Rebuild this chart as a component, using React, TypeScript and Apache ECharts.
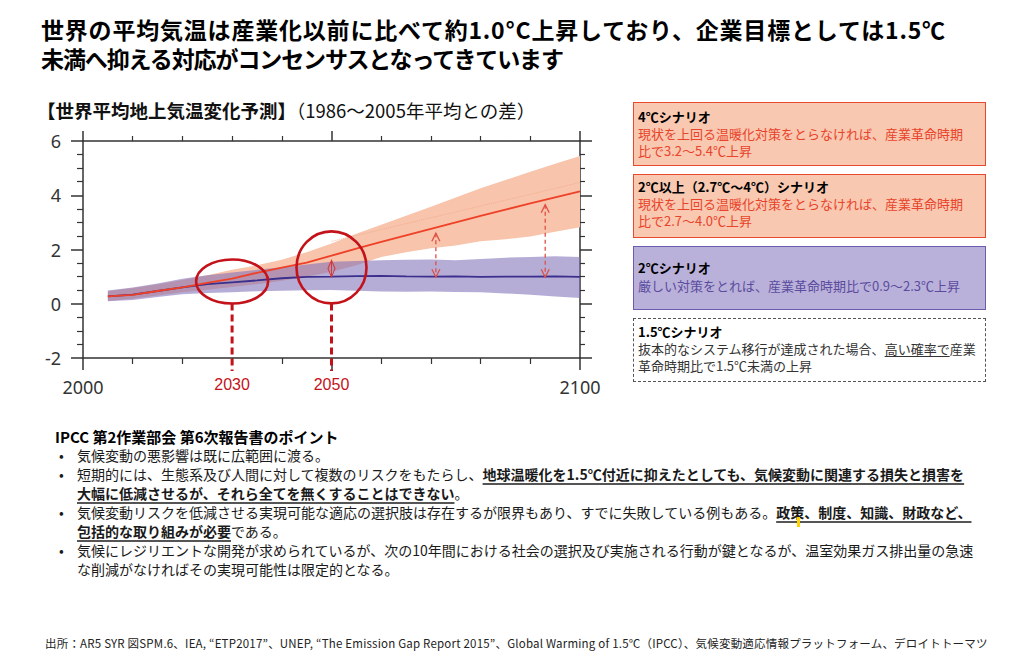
import { useEffect, useRef } from "react"
import * as echarts from "echarts"

// 年（5年刻み）
const years = [
  2005, 2010, 2015, 2020, 2025, 2030, 2035, 2040, 2045, 2050,
  2055, 2060, 2065, 2070, 2075, 2080, 2085, 2090, 2095, 2100,
]

// RCP8.5（4℃シナリオ）平均と幅
const highMean = [
  0.27, 0.33, 0.47, 0.6, 0.77, 0.93, 1.14, 1.33, 1.52, 1.77,
  2.03, 2.28, 2.52, 2.76, 3.0, 3.24, 3.47, 3.7, 3.92, 4.14,
]
const highUpper = [
  0.47, 0.58, 0.72, 0.88, 1.05, 1.25, 1.42, 1.62, 1.9, 2.22,
  2.58, 2.91, 3.24, 3.58, 3.92, 4.26, 4.56, 4.87, 5.16, 5.45,
]
const highLower = [
  0.1, 0.18, 0.3, 0.42, 0.52, 0.62, 0.72, 0.85, 1.0, 1.18,
  1.42, 1.72, 1.9, 2.05, 2.15, 2.3, 2.38, 2.48, 2.65, 2.82,
]

// RCP2.6（2℃シナリオ）平均と幅
const lowMean = [
  0.27, 0.34, 0.47, 0.6, 0.72, 0.79, 0.86, 0.94, 0.99, 1.0,
  1.02, 1.03, 1.01, 1.0, 1.01, 0.99, 1.0, 1.0, 1.01, 0.99,
]
const lowUpper = [
  0.49, 0.6, 0.75, 0.92, 1.05, 1.15, 1.25, 1.35, 1.45, 1.55,
  1.58, 1.6, 1.62, 1.63, 1.6, 1.65, 1.7, 1.72, 1.75, 1.72,
]
const lowLower = [
  0.09, 0.14, 0.25, 0.35, 0.4, 0.42, 0.46, 0.48, 0.5, 0.51,
  0.48, 0.45, 0.44, 0.45, 0.43, 0.42, 0.38, 0.33, 0.27, 0.21,
]

// 帯の中の薄い点線
const dottedYears = [2050, 2100]
const dottedValues = [2.3, 4.47]

// 注目年（円と縦の破線）
const markYears = [2030, 2050]
const markCenters = [0.82, 1.34]

// 差を示す矢印
const arrowYears = [2071, 2093]
const arrowTops = [2.6, 3.65]
const arrowBottoms = [0.98, 0.98]
const gapYear = 2050
const gapTop = 1.6
const gapBottom = 0.99

const shownYearLabels = [2000, 2100]

const pairs = (vals: number[]) => years.map((y, i) => [y, vals[i]])

const JP = '"Noto Sans CJK JP", "Noto Sans", sans-serif'

// 上限と下限の間を一枚の多角形で塗る
function bandSeries(upper: number[], lower: number[], color: string) {
  return {
    type: "custom",
    silent: true,
    data: years.map((y, i) => [y, lower[i], upper[i]]),
    encode: { x: 0, y: [1, 2] },
    renderItem: (params: any, api: any) => {
      if (params.dataIndex !== 0) return null
      const top = years.map((y, i) => api.coord([y, upper[i]]))
      const bottom = years.map((y, i) => api.coord([y, lower[i]])).reverse()
      return {
        type: "polygon",
        shape: { points: top.concat(bottom) },
        style: { fill: color },
      }
    },
  }
}

function TempChart() {
  const ref = useRef<HTMLDivElement>(null)

  useEffect(() => {
    if (!ref.current) return
    const chart = echarts.init(ref.current, undefined, { renderer: "svg" })

    const axisColor = "#333"

    chart.setOption({
      animation: false,
      grid: { left: 83, right: 45, top: 46, bottom: 62 },
      xAxis: [
        {
          type: "value",
          min: 2000,
          max: 2100,
          interval: 50,
          position: "bottom",
          axisLine: { onZero: false, lineStyle: { color: axisColor, width: 1.5 } },
          axisTick: { length: 12, lineStyle: { color: axisColor, width: 1.5 } },
          minorTick: { show: true, splitNumber: 5, length: 6, lineStyle: { color: axisColor, width: 1.2 } },
          axisLabel: {
            formatter: (v: number) => (shownYearLabels.includes(v) ? String(v) : ""),
            fontSize: 18,
            color: "#333",
            margin: 20,
            fontFamily: '"Noto Sans", sans-serif',
          },
          splitLine: { show: false },
        },
        {
          type: "value",
          min: 2000,
          max: 2100,
          interval: 50,
          position: "top",
          axisLine: { onZero: false, lineStyle: { color: axisColor, width: 1.5 } },
          axisTick: { length: 10, lineStyle: { color: axisColor, width: 1.5 } },
          minorTick: { show: true, splitNumber: 5, length: 5, lineStyle: { color: axisColor, width: 1.2 } },
          axisLabel: { show: false },
          splitLine: { show: false },
        },
      ],
      yAxis: [
        {
          type: "value",
          min: -2,
          max: 6,
          interval: 2,
          position: "left",
          axisLine: { show: true, onZero: false, lineStyle: { color: axisColor, width: 1.5 } },
          axisTick: { show: true, length: 12, lineStyle: { color: axisColor, width: 1.5 } },
          minorTick: { show: true, splitNumber: 4, length: 6, lineStyle: { color: axisColor, width: 1.2 } },
          axisLabel: { fontSize: 18, color: "#333", margin: 22, fontFamily: '"Noto Sans", sans-serif' },
          splitLine: { show: false },
        },
        {
          type: "value",
          min: -2,
          max: 6,
          interval: 2,
          position: "right",
          axisLine: { show: true, onZero: false, lineStyle: { color: axisColor, width: 1.5 } },
          axisTick: { show: true, length: 12, lineStyle: { color: axisColor, width: 1.5 } },
          minorTick: { show: true, splitNumber: 4, length: 5, lineStyle: { color: axisColor, width: 1.2 } },
          axisLabel: { show: false },
          splitLine: { show: false },
        },
      ],
      series: [
        bandSeries(highUpper, highLower, "#f8c4ab"),
        bandSeries(lowUpper, lowLower, "rgba(124,108,182,0.56)"),
        {
          type: "line",
          data: dottedYears.map((y, i) => [y, dottedValues[i]]),
          symbol: "none",
          silent: true,
          lineStyle: { color: "#f0a58c", width: 1, type: "dotted", opacity: 0.7 },
        },
        {
          type: "line",
          data: pairs(lowMean),
          symbol: "none",
          silent: true,
          lineStyle: { color: "#3b2f8e", width: 1.8 },
        },
        {
          type: "line",
          data: pairs(highMean),
          symbol: "none",
          silent: true,
          lineStyle: { color: "#ee4128", width: 1.8 },
        },
      ],
    })

    // 注記は軸の座標から位置を求めて描く
    const px = (x: number, y: number) =>
      chart.convertToPixel({ seriesIndex: 3 }, [x, y]) as number[]
    const deep = "#c4121a"
    const soft = "#df4f46"
    const graphics: any[] = []
    const radiusX = [36, 35]
    const radiusY = [22, 36]
    const axisBottom = px(2000, -2)[1]

    markYears.forEach((yr, i) => {
      const [cx, cy] = px(yr, markCenters[i])
      graphics.push({
        type: "ellipse",
        silent: true,
        z: 100,
        shape: { cx, cy, rx: radiusX[i], ry: radiusY[i] },
        style: { fill: "none", stroke: deep, lineWidth: 2.6 },
      })
      graphics.push({
        type: "line",
        silent: true,
        z: 100,
        shape: { x1: cx, y1: cy + radiusY[i], x2: cx, y2: axisBottom + 13 },
        style: { stroke: deep, lineWidth: 3, lineDash: [7, 4] },
      })
      graphics.push({
        type: "text",
        silent: true,
        z: 100,
        x: cx,
        y: axisBottom + 26,
        style: {
          text: String(yr),
          fill: deep,
          fontSize: 16,
          fontFamily: '"Liberation Sans Narrow", "Liberation Sans", sans-serif',
          textAlign: "center",
          textVerticalAlign: "middle",
        },
      })
    })

    arrowYears.forEach((yr, i) => {
      const [x, yTop] = px(yr, arrowTops[i])
      const yBot = px(yr, arrowBottoms[i])[1]
      graphics.push({
        type: "line",
        silent: true,
        z: 100,
        shape: { x1: x, y1: yTop, x2: x, y2: yBot },
        style: { stroke: soft, lineWidth: 1.3, lineDash: [4, 3] },
      })
      graphics.push({
        type: "polyline",
        silent: true,
        z: 100,
        shape: { points: [[x - 4, yTop + 8], [x, yTop], [x + 4, yTop + 8]] },
        style: { stroke: soft, lineWidth: 1.3, fill: "none" },
      })
      graphics.push({
        type: "polyline",
        silent: true,
        z: 100,
        shape: { points: [[x - 4, yBot - 8], [x, yBot], [x + 4, yBot - 8]] },
        style: { stroke: soft, lineWidth: 1.3, fill: "none" },
      })
    })

    const [gx, gTop] = px(gapYear, gapTop)
    const gBot = px(gapYear, gapBottom)[1]
    const gMid = (gTop + gBot) / 2
    graphics.push({
      type: "polygon",
      silent: true,
      z: 100,
      shape: { points: [[gx, gTop], [gx + 3.5, gMid], [gx, gBot], [gx - 3.5, gMid]] },
      style: { stroke: "#d6393a", lineWidth: 1.1, fill: "none" },
    })
    graphics.push({
      type: "line",
      silent: true,
      z: 100,
      shape: { x1: gx, y1: gTop, x2: gx, y2: gBot },
      style: { stroke: "#d6393a", lineWidth: 1 },
    })

    chart.setOption({ graphic: graphics })

    const onResize = () => chart.resize()
    window.addEventListener("resize", onResize)
    return () => {
      window.removeEventListener("resize", onResize)
      chart.dispose()
    }
  }, [])

  return (
    <div
      ref={ref}
      style={{ position: "absolute", left: 0, top: 95, width: 625, height: 325 }}
    />
  )
}

const boxBase: React.CSSProperties = {
  position: "absolute",
  left: 633,
  width: 353,
  height: 64,
  boxSizing: "border-box",
  paddingLeft: 4,
  fontSize: 13,
  lineHeight: "17px",
  whiteSpace: "nowrap",
  fontFamily: JP,
}

const strong: React.CSSProperties = {
  fontWeight: 700,
  textDecoration: "underline",
  textDecorationColor: "#555",
  textDecorationThickness: "1.5px",
  textUnderlineOffset: "3px",
}

const titleLine: React.CSSProperties = {
  position: "absolute",
  left: 41,
  fontSize: 23,
  fontWeight: 700,
  lineHeight: "26px",
  whiteSpace: "nowrap",
  color: "#000",
}

function Bullet({ children }: { children: React.ReactNode }) {
  return (
    <div style={{ position: "relative", paddingLeft: 22 }}>
      <span style={{ position: "absolute", left: 4 }}>•</span>
      {children}
    </div>
  )
}

export default function App() {
  return (
    <div
      style={{
        position: "fixed",
        left: 0,
        top: 0,
        width: 1024,
        height: 653,
        background: "#fff",
        fontFamily: JP,
        color: "#111",
        overflow: "hidden",
      }}
    >
      <TempChart />

      <div style={{ ...titleLine, top: 16, letterSpacing: "0.8px" }}>
        世界の平均気温は産業化以前に比べて約1.0°C上昇しており、企業目標としては1.5℃
      </div>
      <div style={{ ...titleLine, top: 45, letterSpacing: "-1.1px" }}>
        未満へ抑える対応がコンセンサスとなってきています
      </div>

      <div
        style={{
          position: "absolute",
          left: 37,
          top: 99,
          fontSize: 18.5,
          lineHeight: "22px",
          whiteSpace: "nowrap",
          color: "#111",
        }}
      >
        <span style={{ fontWeight: 700 }}>【世界平均地上気温変化予測】</span>（1986～2005年平均との差）
      </div>

      <div style={{ ...boxBase, top: 102, paddingTop: 5, background: "#f9c8b0", border: "1.5px solid #e84a30" }}>
        <div style={{ fontWeight: 700, color: "#000" }}>4℃シナリオ</div>
        <div style={{ color: "#e8432b" }}>
          現状を上回る温暖化対策をとらなければ、産業革命時期
          <br />
          比で3.2～5.4℃上昇
        </div>
      </div>

      <div style={{ ...boxBase, top: 174, paddingTop: 3, background: "#f9c8b0", border: "1.5px solid #e84a30" }}>
        <div style={{ fontWeight: 700, color: "#000" }}>2℃以上（2.7℃～4℃）シナリオ</div>
        <div style={{ color: "#e8432b" }}>
          現状を上回る温暖化対策をとらなければ、産業革命時期
          <br />
          比で2.7～4.0℃上昇
        </div>
      </div>

      <div
        style={{
          ...boxBase,
          top: 246,
          paddingTop: 12,
          lineHeight: "18px",
          background: "#b9b1d9",
          border: "1.5px solid #6d5cae",
        }}
      >
        <div style={{ fontWeight: 700, color: "#000" }}>2℃シナリオ</div>
        <div style={{ color: "#5b4b9e" }}>厳しい対策をとれば、産業革命時期比で0.9～2.3℃上昇</div>
      </div>

      <div style={{ ...boxBase, top: 318, paddingTop: 4, background: "#fff", border: "1.5px dashed #555" }}>
        <div style={{ fontWeight: 700, color: "#000" }}>1.5℃シナリオ</div>
        <div style={{ color: "#333" }}>
          抜本的なシステム移行が達成された場合、
          <span style={{ textDecoration: "underline", textUnderlineOffset: "2px" }}>高い確率で</span>
          産業
          <br />
          革命時期比で1.5℃未満の上昇
        </div>
      </div>

      <div
        style={{
          position: "absolute",
          left: 55,
          top: 427,
          fontSize: 14,
          lineHeight: "19px",
          whiteSpace: "nowrap",
          color: "#1a1a1a",
        }}
      >
        <div style={{ fontWeight: 700, color: "#000", fontSize: 15 }}>IPCC 第2作業部会 第6次報告書のポイント</div>
        <Bullet>気候変動の悪影響は既に広範囲に渡る。</Bullet>
        <Bullet>
          短期的には、生態系及び人間に対して複数のリスクをもたらし、
          <span style={strong}>地球温暖化を1.5℃付近に抑えたとしても、気候変動に関連する損失と損害を</span>
          <br />
          <span style={strong}>大幅に低減させるが、それら全てを無くすることはできない</span>。
        </Bullet>
        <Bullet>
          気候変動リスクを低減させる実現可能な適応の選択肢は存在するが限界もあり、すでに失敗している例もある。
          <span style={strong}>政策、制度、知識、財政など、</span>
          <br />
          <span style={strong}>包括的な取り組みが必要</span>である。
        </Bullet>
        <Bullet>
          気候にレジリエントな開発が求められているが、次の10年間における社会の選択及び実施される行動が鍵となるが、温室効果ガス排出量の急速
          <br />
          な削減がなければその実現可能性は限定的となる。
        </Bullet>
      </div>

      <div style={{ position: "absolute", left: 797, top: 517, width: 3, height: 10, background: "#ffd400" }} />

      <div
        style={{
          position: "absolute",
          left: 45,
          top: 635,
          fontSize: 11.5,
          letterSpacing: "0.2px",
          lineHeight: "16px",
          whiteSpace: "nowrap",
          color: "#222",
        }}
      >
        出所：AR5 SYR 図SPM.6、IEA, “ETP2017”、UNEP, “The Emission Gap Report 2015”、Global Warming of 1.5℃（IPCC）、気候変動適応情報プラットフォーム、デロイトトーマツ
      </div>
    </div>
  )
}
